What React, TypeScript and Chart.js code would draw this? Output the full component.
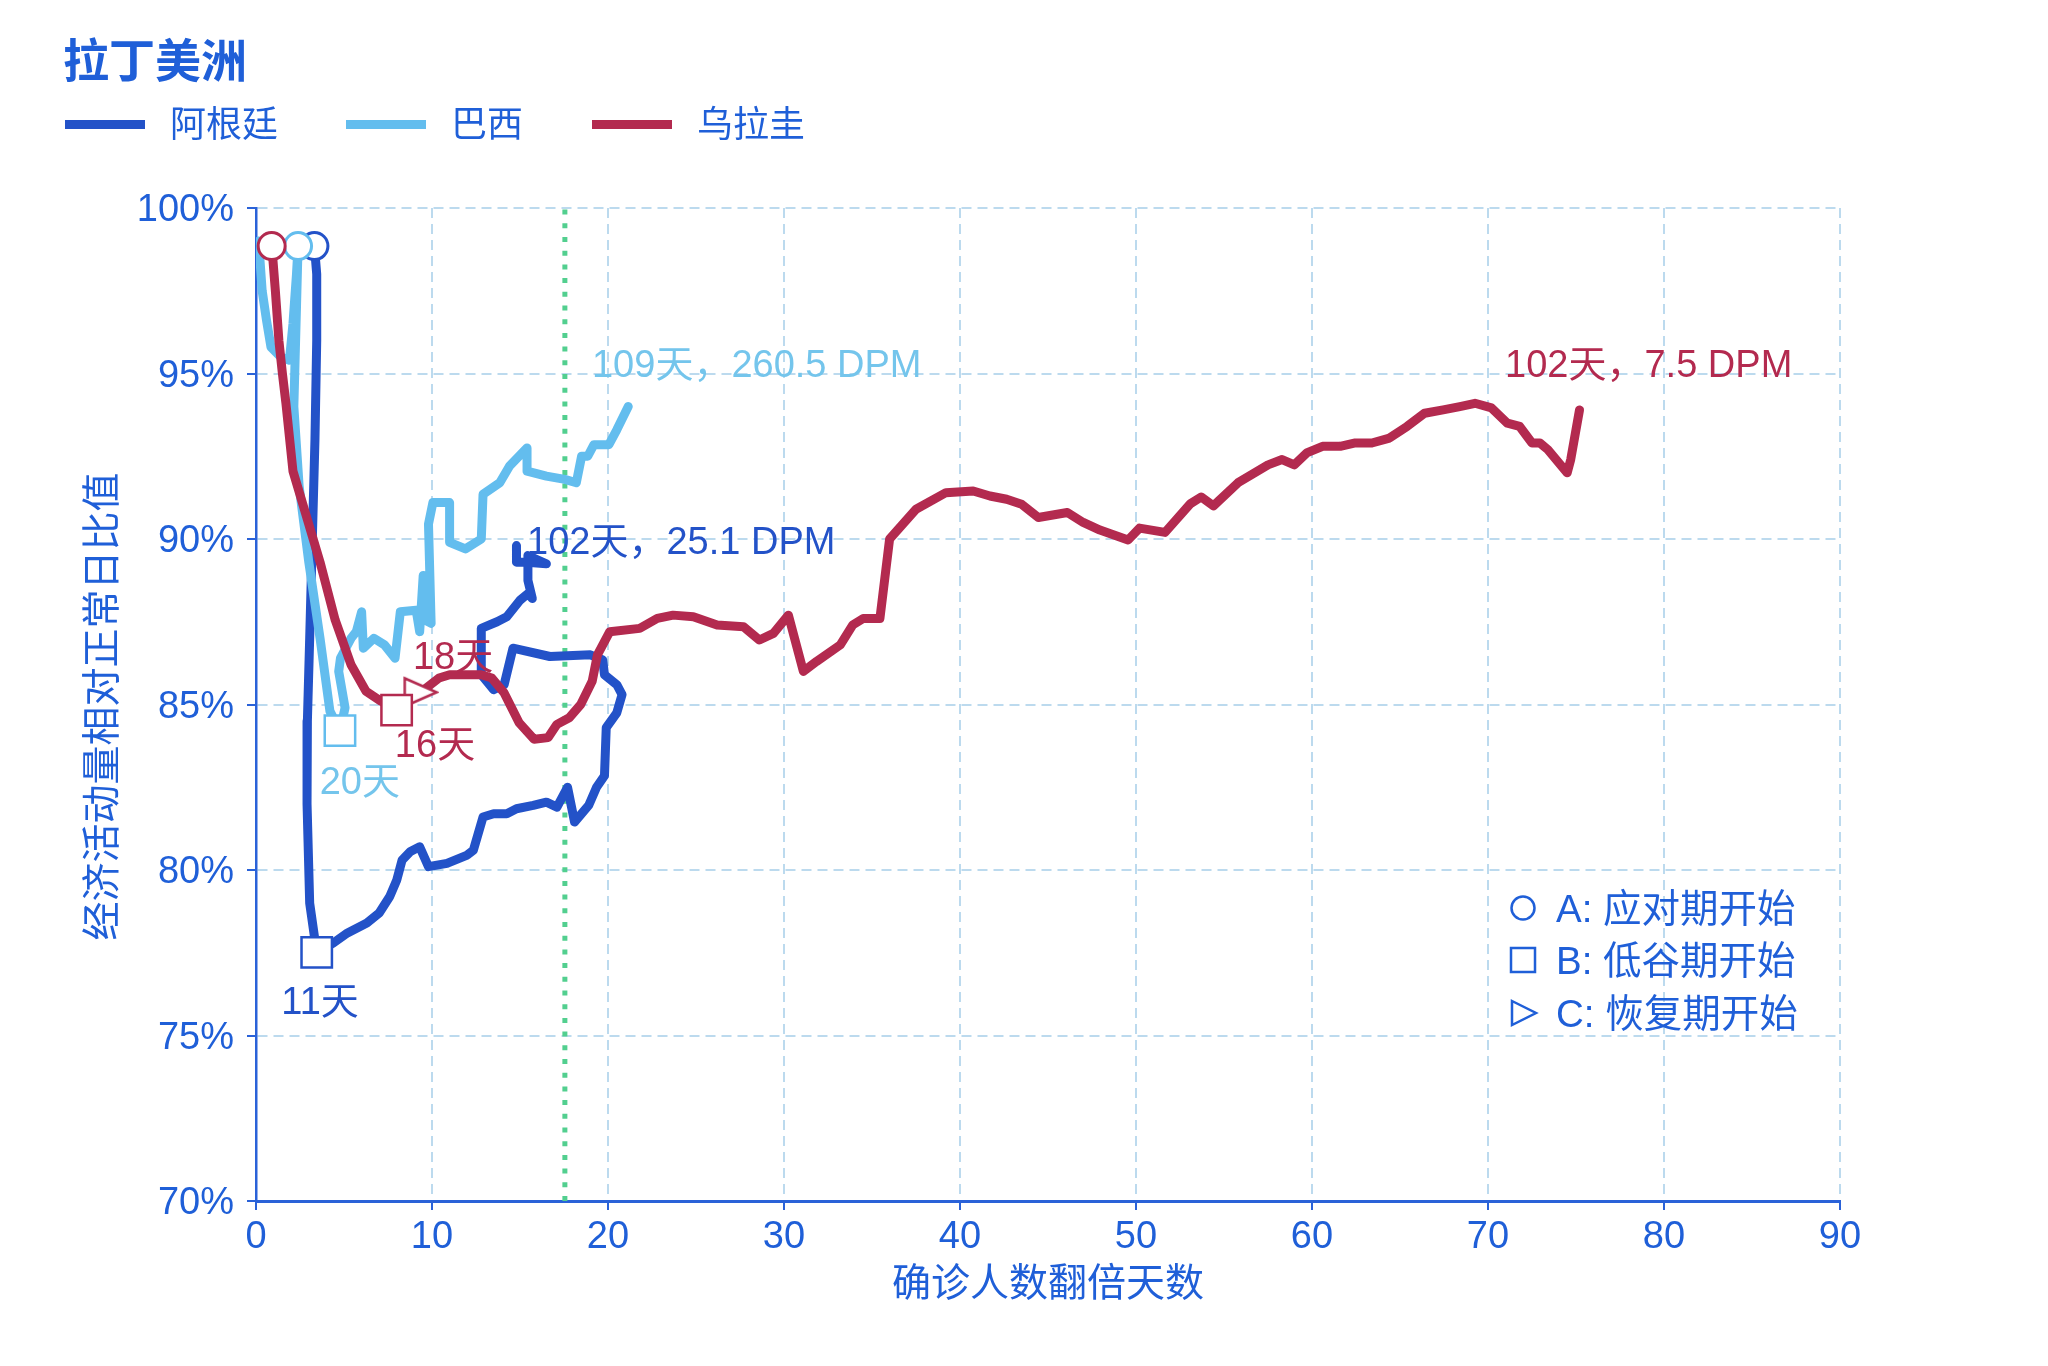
import React, { useEffect, useRef } from 'react';
import { Chart, registerables } from 'chart.js';

Chart.register(...registerables);

// ---------- data ----------
const seriesNames = ['阿根廷', '巴西', '乌拉圭'];

const argentina: [number, number][] = [
  [3.32, 98.85], [3.45, 98.0], [3.45, 96.0], [3.35, 93.0], [3.2, 90.0], [3.05, 87.0],
  [2.92, 84.5], [2.9, 82.0], [3.05, 79.0], [3.45, 77.5], [4.4, 77.8], [5.2, 78.1],
  [6.3, 78.4], [7.0, 78.7], [7.6, 79.2], [8.0, 79.7], [8.3, 80.3], [8.75, 80.55],
  [9.3, 80.7], [9.8, 80.1], [10.85, 80.2], [12.0, 80.45], [12.35, 80.6], [12.9, 81.6],
  [13.5, 81.7], [14.25, 81.7], [14.8, 81.85], [15.75, 81.95], [16.5, 82.05], [17.1, 81.9],
  [17.7, 82.5], [18.1, 81.45], [18.9, 81.95], [19.35, 82.5], [19.8, 82.85], [19.9, 84.3],
  [20.5, 84.75], [20.8, 85.3], [20.5, 85.6], [19.8, 85.9], [19.7, 86.35], [19.0, 86.5],
  [16.7, 86.45], [14.6, 86.7], [14.1, 85.6], [13.5, 85.45], [12.8, 85.9], [12.8, 87.3],
  [13.7, 87.5], [14.25, 87.65], [15.0, 88.15], [15.45, 88.35], [15.7, 88.2], [15.45, 88.75],
  [15.45, 89.5], [16.5, 89.25], [15.4, 89.3], [14.8, 89.3], [14.8, 89.8],
];

const brazil: [number, number][] = [
  [0.15, 99.0], [0.35, 97.5], [0.6, 96.6], [0.85, 95.8], [1.4, 95.5], [1.9, 95.4],
  [2.1, 96.5], [2.3, 98.0], [2.39, 98.85], [2.3, 97.0], [2.15, 94.0], [2.45, 91.6],
  [3.0, 89.3], [3.64, 87.0], [4.2, 84.8], [4.77, 84.2], [5.06, 84.9], [4.7, 86.0],
  [4.8, 86.4], [5.4, 87.0], [5.7, 87.2], [6.0, 87.8], [6.1, 86.7], [6.7, 87.0],
  [7.3, 86.8], [7.9, 86.4], [8.2, 87.8], [9.1, 87.85], [9.3, 87.2], [9.5, 88.9],
  [9.6, 87.55], [9.95, 87.45], [9.8, 90.45], [10.05, 91.1], [11.0, 91.1], [11.0, 89.9],
  [11.9, 89.7], [12.8, 90.0], [12.9, 91.35], [13.85, 91.7], [14.4, 92.2], [15.4, 92.75],
  [15.4, 92.05], [16.5, 91.9], [17.55, 91.8], [18.2, 91.7], [18.5, 92.5], [18.85, 92.5],
  [19.2, 92.85], [20.05, 92.85], [20.5, 93.3], [21.15, 94.0],
];

const uruguay: [number, number][] = [
  [0.9, 98.85], [1.1, 97.5], [1.3, 96.0], [1.5, 95.0], [1.7, 94.1], [2.1, 92.05],
  [2.8, 90.8], [3.64, 89.3], [4.5, 87.55], [5.4, 86.2], [6.25, 85.4], [7.1, 85.1],
  [7.99, 84.83], [9.36, 85.37], [10.4, 85.8], [11.0, 85.9], [12.8, 85.9], [13.4, 85.8],
  [14.1, 85.35], [14.95, 84.45], [15.8, 83.95], [16.6, 84.0], [17.1, 84.4], [17.8, 84.6],
  [18.45, 85.0], [19.1, 85.7], [19.4, 86.5], [20.1, 87.2], [21.8, 87.3], [22.8, 87.6],
  [23.7, 87.7], [24.85, 87.65], [26.2, 87.4], [27.7, 87.35], [28.6, 86.95], [29.4, 87.15],
  [30.25, 87.7], [31.1, 86.0], [31.85, 86.3], [33.2, 86.8], [33.9, 87.4], [34.5, 87.6],
  [35.45, 87.6], [36.0, 90.0], [37.5, 90.9], [39.2, 91.4], [40.75, 91.45], [41.7, 91.3],
  [42.65, 91.2], [43.5, 91.05], [44.45, 90.65], [46.1, 90.8], [47.0, 90.5], [47.95, 90.27],
  [49.55, 89.97], [50.2, 90.33], [51.65, 90.2], [53.1, 91.07], [53.7, 91.27], [54.4, 91.0],
  [55.8, 91.7], [57.5, 92.24], [58.3, 92.4], [59.0, 92.24], [59.7, 92.6], [60.6, 92.8],
  [61.6, 92.8], [62.4, 92.9], [63.4, 92.9], [64.4, 93.05], [65.4, 93.4], [66.4, 93.8],
  [67.45, 93.9], [68.4, 94.0], [69.26, 94.1], [70.2, 93.96], [71.1, 93.5], [71.8, 93.4],
  [72.5, 92.9], [72.95, 92.9], [73.4, 92.7], [74.5, 92.0], [74.7, 92.4], [75.2, 93.9],
];

// phase markers: [series index, x, y]
const phaseA: [number, number, number][] = [[0, 3.32, 98.85], [1, 2.39, 98.85], [2, 0.89, 98.85]];
const phaseB: [number, number, number][] = [[0, 3.45, 77.51], [1, 4.77, 84.21], [2, 7.99, 84.83]];
const phaseC: [number, number, number][] = [[2, 9.36, 85.37]];

// phase day labels: [series index, text, x, y]
const phaseLabels: [number, string, number, number][] = [
  [0, '11天', 3.64, 76.07],
  [1, '20天', 5.9, 82.72],
  [2, '16天', 10.17, 83.84],
  [2, '18天', 11.2, 86.5],
];

// end-of-series labels: [series index, text, x, y]
const endLabels: [number, string, number, number][] = [
  [1, '109天，260.5 DPM', 19.09, 95.32],
  [0, '102天，25.1 DPM', 15.4, 89.97],
  [2, '102天，7.5 DPM', 70.97, 95.32],
];

const thresholdX = 17.55;
const xRange = [0, 90];
const yRange = [70, 100];
const xStep = 10;
const yStep = 5;

const chartTitle = '拉丁美洲';
const xTitle = '确诊人数翻倍天数';
const yTitle = '经济活动量相对正常日比值';
const phaseLegend = ['A: 应对期开始', 'B: 低谷期开始', 'C: 恢复期开始'];

// ---------- styles ----------
const lineColors = ['#2352c8', '#63bdee', '#b32a4f'];
const labelColors = ['#2352c8', '#74c5ec', '#b32a4f'];
const textBlue = '#1f5fd8';
const axisBlue = '#2a62d8';
const gridColor = '#bcdaee';
const greenDot = '#52cf8f';
const FONT = '"Liberation Sans", "Noto Sans CJK SC", sans-serif';
const LABEL_SIZE = 38;

function makeTriangle(color: string, w: number, h: number, lw: number) {
  const c = document.createElement('canvas');
  c.width = w + lw * 2;
  c.height = h + lw * 2;
  const g = c.getContext('2d')!;
  g.fillStyle = '#ffffff';
  g.strokeStyle = color;
  g.lineWidth = lw;
  g.beginPath();
  g.moveTo(lw, lw);
  g.lineTo(lw + w, lw + h / 2);
  g.lineTo(lw, lw + h);
  g.closePath();
  g.fill();
  g.stroke();
  return c;
}

export default function App() {
  const ref = useRef<HTMLCanvasElement | null>(null);

  useEffect(() => {
    if (!ref.current) return;
    document.body.style.margin = '0';

    const toPts = (arr: [number, number][]) => arr.map(([x, y]) => ({ x, y }));
    const lineDs = (i: number, arr: [number, number][], order: number) => ({
      label: seriesNames[i],
      data: toPts(arr),
      showLine: true,
      borderColor: lineColors[i],
      backgroundColor: lineColors[i],
      borderWidth: 9,
      pointRadius: 0,
      pointHoverRadius: 0,
      borderJoinStyle: 'round' as const,
      borderCapStyle: 'round' as const,
      tension: 0,
      order,
    });

    const triangles = lineColors.map((c) => makeTriangle(c, 32, 28, 2.5));

    const overlay = {
      id: 'overlay',
      afterDatasetsDraw(chart: any) {
        const { ctx, scales } = chart;
        const xs = scales.x;
        const ys = scales.y;
        ctx.save();
        ctx.font = `${LABEL_SIZE}px ${FONT}`;
        ctx.textBaseline = 'alphabetic';
        for (const [i, text, x, y] of phaseLabels) {
          ctx.fillStyle = labelColors[i];
          ctx.textAlign = 'center';
          ctx.fillText(text, xs.getPixelForValue(x), ys.getPixelForValue(y) + 0.37 * LABEL_SIZE);
        }
        for (const [i, text, x, y] of endLabels) {
          ctx.fillStyle = labelColors[i];
          ctx.textAlign = 'left';
          ctx.fillText(text, xs.getPixelForValue(x), ys.getPixelForValue(y) + 0.37 * LABEL_SIZE);
        }
        ctx.restore();
      },
      afterDraw(chart: any) {
        const { ctx, chartArea } = chart;
        ctx.save();
        // title
        ctx.fillStyle = textBlue;
        ctx.textAlign = 'left';
        ctx.textBaseline = 'alphabetic';
        ctx.font = `bold 46px ${FONT}`;
        ctx.fillText(chartTitle, 63, 77);
        // top legend
        const legendX = [65, 346, 592];
        ctx.font = `36px ${FONT}`;
        legendX.forEach((lx, i) => {
          ctx.fillStyle = lineColors[i];
          ctx.fillRect(lx, 120, 80, 9);
          ctx.fillStyle = textBlue;
          ctx.fillText(seriesNames[i], lx + 105, 137);
        });
        // axis titles
        ctx.font = `39px ${FONT}`;
        ctx.textAlign = 'center';
        ctx.fillStyle = textBlue;
        ctx.fillText(xTitle, (chartArea.left + chartArea.right) / 2, 1296);
        ctx.save();
        ctx.translate(101, (chartArea.top + chartArea.bottom) / 2 + 2);
        ctx.rotate(-Math.PI / 2);
        ctx.fillText(yTitle, 0, 0.37 * 39);
        ctx.restore();
        // phase legend
        const lx = 1523;
        const rows = [908, 960, 1013];
        ctx.strokeStyle = textBlue;
        ctx.lineWidth = 2.5;
        ctx.beginPath();
        ctx.arc(lx, rows[0], 11.5, 0, Math.PI * 2);
        ctx.stroke();
        ctx.strokeRect(lx - 12, rows[1] - 12, 24, 24);
        ctx.beginPath();
        ctx.moveTo(lx - 11, rows[2] - 12);
        ctx.lineTo(lx + 13, rows[2]);
        ctx.lineTo(lx - 11, rows[2] + 12);
        ctx.closePath();
        ctx.stroke();
        ctx.font = `38.5px ${FONT}`;
        ctx.textAlign = 'left';
        phaseLegend.forEach((t, k) => {
          ctx.fillText(t, 1556, rows[k] + 0.37 * 38.5);
        });
        ctx.restore();
      },
    };

    const chart = new Chart(ref.current, {
      type: 'scatter',
      data: {
        datasets: [
          {
            label: 'A',
            data: phaseA.map(([, x, y]) => ({ x, y })),
            pointStyle: 'circle',
            pointRadius: 13.5,
            pointBorderWidth: 3,
            pointBackgroundColor: '#ffffff',
            pointBorderColor: phaseA.map(([i]) => lineColors[i]),
            showLine: false,
            order: 0,
          },
          {
            label: 'B',
            data: phaseB.map(([, x, y]) => ({ x, y })),
            pointStyle: 'rect',
            pointRadius: 21.5,
            pointBorderWidth: 2.5,
            pointBackgroundColor: '#ffffff',
            pointBorderColor: phaseB.map(([i]) => lineColors[i]),
            showLine: false,
            order: 0,
          },
          {
            label: 'C',
            data: phaseC.map(([, x, y]) => ({ x, y })),
            pointStyle: phaseC.map(([i]) => triangles[i]) as any,
            pointRadius: 16,
            showLine: false,
            order: 0,
          },
          lineDs(2, uruguay, 1),
          lineDs(1, brazil, 2),
          lineDs(0, argentina, 3),
          {
            label: 'threshold',
            data: [{ x: thresholdX, y: yRange[0] }, { x: thresholdX, y: yRange[1] }],
            showLine: true,
            borderColor: greenDot,
            borderWidth: 5,
            borderDash: [5, 8.7],
            borderCapStyle: 'butt' as const,
            pointRadius: 0,
            order: 5,
          },
        ] as any,
      },
      options: {
        animation: false,
        responsive: false,
        maintainAspectRatio: false,
        devicePixelRatio: 1,
        events: [],
        layout: { padding: { left: 0, top: 208, right: 208, bottom: 0 } },
        plugins: {
          legend: { display: false },
          tooltip: { enabled: false },
          title: { display: false },
        },
        scales: {
          x: {
            type: 'linear',
            min: xRange[0],
            max: xRange[1],
            ticks: {
              stepSize: xStep,
              color: textBlue,
              font: { family: FONT, size: 38 },
              padding: 5,
              maxRotation: 0,
            },
            grid: {
              color: gridColor,
              lineWidth: 2,
              tickColor: axisBlue,
              tickLength: 9,
              tickWidth: 2,
              tickBorderDash: [],
            },
            border: { color: axisBlue, width: 3, dash: [10, 6] },
            afterFit(s: any) {
              s.height = 165;
            },
          },
          y: {
            type: 'linear',
            min: yRange[0],
            max: yRange[1],
            ticks: {
              stepSize: yStep,
              color: textBlue,
              font: { family: FONT, size: 38 },
              padding: 13,
              labelOffset: 3,
              callback: (v: any) => `${v}%`,
            },
            grid: {
              color: gridColor,
              lineWidth: 2,
              tickColor: axisBlue,
              tickLength: 9,
              tickWidth: 2,
              tickBorderDash: [],
            },
            border: { color: axisBlue, width: 2.5, dash: [10, 6] },
            afterFit(s: any) {
              s.width = 256;
            },
          },
        },
      } as any,
      plugins: [overlay],
    });

    return () => chart.destroy();
  }, []);

  return (
    <div style={{ position: 'fixed', left: 0, top: 0, width: 2048, height: 1366, background: '#ffffff' }}>
      <canvas ref={ref} width={2048} height={1366} style={{ display: 'block', width: 2048, height: 1366 }} />
    </div>
  );
}
